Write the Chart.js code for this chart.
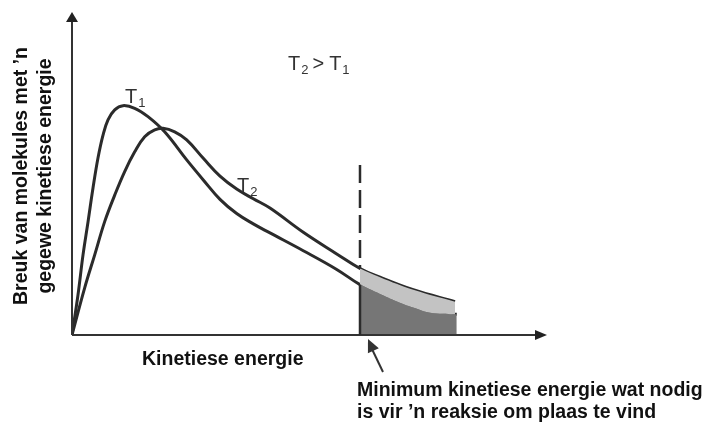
<!DOCTYPE html>
<html>
<head>
<meta charset="utf-8">
<script src="https://cdn.jsdelivr.net/npm/chart.js@4"></script>
<style>
  html, body { margin: 0; padding: 0; background: #fff; }
  #wrap { width: 707px; height: 423px; }
</style>
</head>
<body>
<div id="wrap"><canvas id="chart" width="707" height="423"></canvas></div>
<script>
// Energy (x) and fraction of molecules (y), both in arbitrary units 0..100
const t1Energy   = [0, 1.26, 2.32, 3.37, 4.42, 5.47, 6.53, 7.58, 8.99, 10.74, 13.2, 16.0, 19.5, 24.15, 27.64, 31.16, 34.67, 38.17, 41.68, 48.69, 55.73, 60.63, 64.84, 68.4, 71.8, 75.4, 81.0];
const t1Fraction = [0, 12.4, 24.8, 35.0, 45.5, 54.8, 61.9, 66.6, 69.7, 71.0, 70.2, 67.6, 62.9, 54.2, 48.0, 42.0, 37.6, 34.4, 31.6, 26.1, 20.3, 15.6, 12.7, 10.4, 8.5, 6.9, 6.4];
const t2Energy   = [0, 2.67, 4.78, 6.88, 8.99, 11.09, 13.2, 15.3, 17.41, 19.16, 21.62, 24.15, 27.64, 31.16, 34.67, 38.17, 41.68, 48.69, 55.73, 60.63, 64.84, 71.85, 80.63];
const t2Fraction = [0, 14.6, 24.8, 35.1, 43.3, 50.6, 56.7, 61.4, 63.5, 64.0, 62.9, 60.4, 54.7, 49.2, 45.2, 42.2, 39.3, 31.8, 25.1, 20.6, 17.9, 14.0, 10.3];
const activationEnergy = 60.63;  // minimum energy needed
const dashTop = 52.6;            // top of the dashed marker line

const yTitle = ['Breuk van molekules met \u2019n', 'gegewe kinetiese energie'];
const xTitle = 'Kinetiese energie';
const noteLines = ['Minimum kinetiese energie wat nodig', 'is vir \u2019n reaksie om plaas te vind'];

const toPoints = (xs, ys) => xs.map((x, i) => ({ x: x, y: ys[i] }));
const tail = pts => pts.filter(p => p.x >= activationEnergy);

const t1Points = toPoints(t1Energy, t1Fraction);
const t2Points = toPoints(t2Energy, t2Fraction);

const curveColor = '#2b2b2b';
const font = '"Liberation Sans", Arial, sans-serif';
const textFont = 'bold 19.5px ' + font;

function arrowHead(ctx, x, y, angle, len, half) {
    ctx.save();
    ctx.translate(x, y);
    ctx.rotate(angle);
    ctx.beginPath();
    ctx.moveTo(0, 0);
    ctx.lineTo(-len, -half);
    ctx.lineTo(-len, half);
    ctx.closePath();
    ctx.fill();
    ctx.restore();
}

// T with a subscript digit
function tLabel(ctx, text, sub, x, y) {
    ctx.font = '20px ' + font;
    ctx.fillText(text, x, y);
    const w = ctx.measureText(text).width;
    ctx.font = '13px ' + font;
    ctx.fillText(sub, x + w + 1, y + 4);
    return w + 1 + ctx.measureText(sub).width;
}

const decorations = {
    id: 'decorations',
    afterDatasetsDraw(chart) {
        const ctx = chart.ctx;
        const xs = chart.scales.x, ys = chart.scales.y;
        const x0 = xs.getPixelForValue(0), y0 = ys.getPixelForValue(0);
        const xEnd = xs.getPixelForValue(100), yEnd = ys.getPixelForValue(100);
        ctx.save();
        ctx.fillStyle = '#222';
        ctx.strokeStyle = '#333';
        ctx.lineWidth = 2;

        // axes with arrows
        ctx.beginPath();
        ctx.moveTo(x0, y0); ctx.lineTo(x0, yEnd + 8);
        ctx.moveTo(x0, y0); ctx.lineTo(xEnd - 8, y0);
        ctx.stroke();
        arrowHead(ctx, x0, yEnd, -Math.PI / 2, 10, 6);
        arrowHead(ctx, xEnd, y0, 0, 12, 5);

        // activation energy marker
        const xa = xs.getPixelForValue(activationEnergy);
        const t1At = t1Points.find(p => p.x === activationEnergy).y;
        const t2At = t2Points.find(p => p.x === activationEnergy).y;
        ctx.strokeStyle = curveColor;
        ctx.lineWidth = 2.5;
        ctx.setLineDash([18, 7]);
        ctx.beginPath();
        ctx.moveTo(xa, ys.getPixelForValue(dashTop));
        ctx.lineTo(xa, ys.getPixelForValue(t2At));
        ctx.stroke();
        ctx.setLineDash([]);
        ctx.beginPath();
        ctx.moveTo(xa, ys.getPixelForValue(t1At));
        ctx.lineTo(xa, y0);
        ctx.stroke();

        // pointer arrow to the marker
        ctx.strokeStyle = '#333';
        ctx.fillStyle = '#333';
        ctx.lineWidth = 2;
        const sx = xa + 23, sy = y0 + 37, tx = xa + 8, ty = y0 + 4;
        ctx.beginPath();
        ctx.moveTo(sx, sy); ctx.lineTo(tx + 3, ty + 8);
        ctx.stroke();
        arrowHead(ctx, tx, ty, Math.atan2(ty - sy, tx - sx), 13, 6);

        // texts
        ctx.fillStyle = '#111';
        ctx.textBaseline = 'alphabetic';
        ctx.textAlign = 'left';
        ctx.font = textFont;
        ctx.fillText(xTitle, 142, 365);
        ctx.fillText(noteLines[0], 357, 396);
        ctx.fillText(noteLines[1], 357, 418);

        ctx.save();
        ctx.rotate(-Math.PI / 2);
        ctx.textAlign = 'center';
        ctx.fillText(yTitle[0], -176, 27);
        ctx.fillText(yTitle[1], -176, 51);
        ctx.restore();

        ctx.fillStyle = '#333';
        let w = tLabel(ctx, 'T', '2', 288, 70);
        ctx.font = '20px ' + font;
        ctx.fillText('>', 288 + w + 4, 70);
        const gw = ctx.measureText('>').width;
        tLabel(ctx, 'T', '1', 288 + w + 4 + gw + 5, 70);

        tLabel(ctx, 'T', '1', 125, 103);
        tLabel(ctx, 'T', '2', 237, 192);
        ctx.restore();
    }
};

const curveStyle = {
    showLine: true,
    pointRadius: 0,
    tension: 0.4
};

new Chart(document.getElementById('chart'), {
    type: 'scatter',
    data: {
        datasets: [
            Object.assign({   // light band between T2 and T1 beyond the minimum energy
                data: tail(t2Points),
                borderColor: 'rgba(0,0,0,0)',
                backgroundColor: '#c3c3c3',
                fill: 1
            }, curveStyle),
            Object.assign({   // dark area under T1 beyond the minimum energy
                data: tail(t1Points),
                borderColor: 'rgba(0,0,0,0)',
                backgroundColor: '#767676',
                fill: 'origin'
            }, curveStyle),
            Object.assign({
                label: 'T1',
                data: t1Points,
                borderColor: curveColor,
                borderWidth: 3,
                fill: false
            }, curveStyle),
            Object.assign({
                label: 'T2',
                data: t2Points,
                borderColor: curveColor,
                borderWidth: 3,
                fill: false
            }, curveStyle)
        ]
    },
    options: {
        responsive: false,
        animation: false,
        layout: { padding: { left: 72, right: 160, top: 12, bottom: 88 } },
        scales: {
            x: { type: 'linear', min: 0, max: 100, display: false },
            y: { type: 'linear', min: 0, max: 100, display: false }
        },
        plugins: {
            legend: { display: false },
            tooltip: { enabled: false }
        }
    },
    plugins: [decorations]
});
</script>
</body>
</html>
